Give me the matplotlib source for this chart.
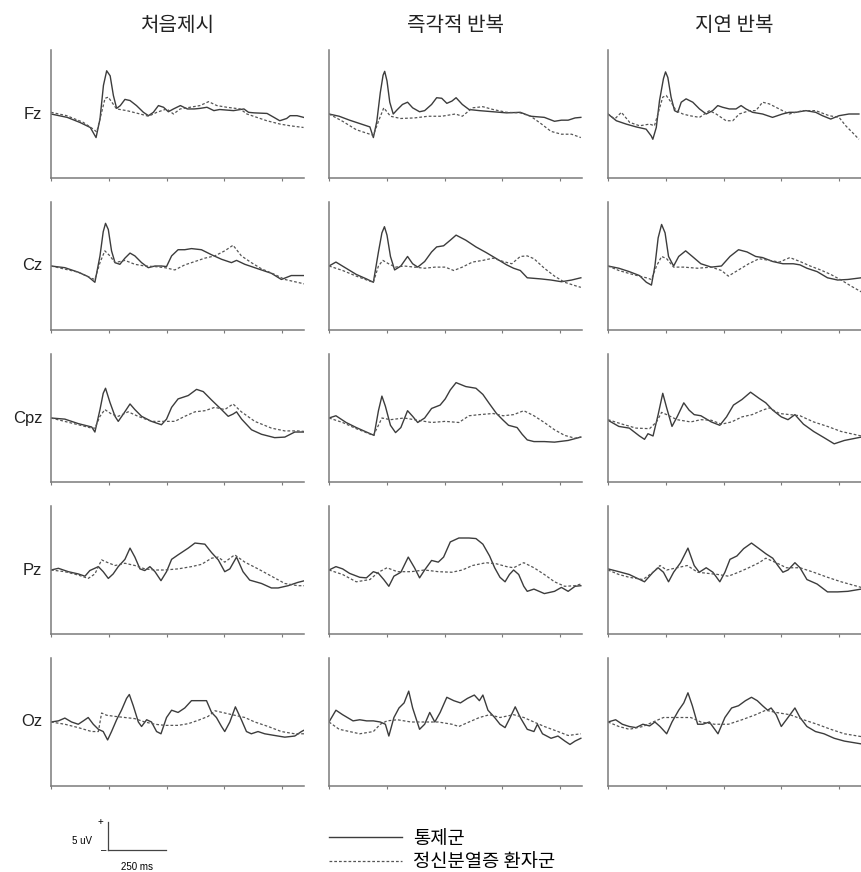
import numpy as np
import matplotlib.pyplot as plt
from matplotlib.lines import Line2D

plt.rcParams['font.family'] = ['Liberation Sans', 'DejaVu Sans']
KR = ['Noto Sans CJK KR', 'DejaVu Sans']

# ERP grand averages: (time ms, amplitude uV)
conditions = ['처음제시', '즉각적 반복', '지연 반복']
electrodes = ['Fz', 'Cz', 'Cpz', 'Pz', 'Oz']
groups = ['통제군', '정신분열증 환자군']

fz_first_ctrl = [(-200,0),(-130,-0.6),(-75,-1.5),(-30,-2.4),(-5,-4.2),(12,-0.9),(27,5.1),(41,7.7),(56,6.8),(70,3.3),(84,1.0),(100,1.5),(120,2.6),(142,2.4),(170,1.5),(200,0.3),(222,-0.3),(243,0.3),(265,1.5),(287,1.2),(308,0.4),(330,0.9),(360,1.5),(390,0.9),(420,0.9),(445,1.0),(475,1.2),(505,0.6),(530,0.8),(590,0.6),(635,0.9),(655,0.3),(680,0.2),(735,0.1),(765,-0.6),(790,-1.2),(820,-0.8),(835,-0.3),(865,-0.3),(893,-0.6)]
fz_first_scz = [(-200,0.3),(-132,-0.3),(-60,-1.5),(-17,-2.7),(-2,-3.2),(12,-0.9),(34,2.8),(48,3.0),(84,0.9),(128,0.6),(186,0),(222,-0.4),(258,0.3),(301,0.9),(330,0),(359,0.9),(402,1.2),(445,1.5),(482,2.2),(518,1.5),(561,1.2),(619,0.9),(648,0),(691,-0.6),(734,-1.2),(792,-1.8),(835,-2.1),(893,-2.4)]

cz_first_ctrl = [(-200,0),(-140,-0.3),(-82,-1.1),(-39,-1.9),(-10,-2.9),(12,1.8),(26,6.1),(36,7.6),(48,6.5),(62,2.7),(77,0.6),(98,0.3),(120,1.4),(142,2.3),(163,1.8),(192,0.6),(221,-0.3),(250,0),(278,0),(300,-0.1),(322,1.8),(350,2.9),(379,2.9),(408,3.1),(451,2.9),(495,2.0),(538,1.2),(581,0.6),(603,1.0),(639,0.3),(696,-0.5),(754,-1.3),(797,-2.4),(840,-1.7),(898,-1.7)]
cz_first_scz = [(-200,0),(-82,-1.1),(-24,-2.2),(-10,-2.4),(12,0.6),(33,2.7),(55,1.8),(77,0.6),(120,1.0),(163,0.3),(206,0),(250,-0.1),(293,-0.3),(336,-0.7),(379,0.2),(423,0.8),(466,1.4),(509,1.8),(552,2.7),(588,3.7),(624,1.8),(667,0.6),(711,-0.5),(768,-1.5),(812,-2.4),(855,-2.8),(898,-3.2)]

cpz_first_ctrl = [(-200,0),(-140,-0.2),(-82,-1.0),(-24,-1.6),(-10,-2.5),(12,1.5),(26,4.4),(36,5.3),(55,2.8),(77,0.3),(91,-0.6),(113,0.7),(142,2.5),(163,1.5),(192,0.3),(235,-0.6),(278,-1.2),(300,-0.2),(322,1.9),(350,3.4),(394,4.0),(430,5.1),(459,4.7),(495,3.2),(538,1.5),(567,0.3),(588,0.7),(603,1.1),(625,-0.2),(668,-2.1),(711,-2.9),(768,-3.5),(812,-3.4),(855,-2.5),(898,-2.5)]
cpz_first_scz = [(-200,0),(-82,-1.2),(-24,-1.8),(-10,-1.8),(12,0.3),(33,1.5),(62,0.7),(91,0.3),(134,1.1),(177,0.3),(235,-0.6),(293,-0.6),(336,-0.6),(379,0.3),(423,1.1),(466,1.3),(509,1.9),(552,1.5),(588,2.5),(624,1.1),(682,-0.6),(754,-1.8),(812,-2.3),(869,-2.3),(898,-2.4)]

pz_first_ctrl = [(-200,0),(-168,0.3),(-125,-0.3),(-82,-0.7),(-53,-1.1),(-32,-0.1),(5,0.6),(26,-0.3),(48,-1.5),(69,-0.7),(91,0.6),(120,1.9),(142,3.9),(163,2.3),(185,0.2),(206,-0.1),(228,0.6),(250,-0.3),(276,-1.9),(300,-0.3),(322,1.9),(350,2.7),(394,3.9),(423,4.8),(466,4.6),(495,3.1),(524,1.8),(552,-0.3),(574,0.2),(603,2.3),(631,-0.3),(660,-1.8),(711,-2.4),(754,-3.2),(783,-3.2),(826,-2.8),(869,-2.2),(898,-1.9)]
pz_first_scz = [(-200,0),(-140,-0.3),(-82,-0.9),(-39,-1.5),(-10,-0.7),(19,1.8),(41,1.4),(77,0.8),(120,1.2),(163,0.8),(206,0.2),(250,0),(293,0),(350,0.2),(408,0.6),(451,1.0),(495,2.1),(524,2.3),(552,1.4),(595,2.7),(639,1.4),(696,0.2),(754,-1.1),(812,-2.4),(869,-2.8),(898,-2.8)]

oz_first_ctrl = [(-200,0),(-168,0.2),(-140,0.7),(-111,0),(-82,-0.4),(-60,0.2),(-39,0.8),(-17,-0.4),(5,-1.3),(26,-1.7),(45,-3.2),(62,-1.7),(84,0.4),(105,2.1),(127,4.2),(139,4.9),(156,2.9),(178,0),(192,-0.8),(214,0.4),(235,0),(257,-1.7),(276,-2.1),(300,0.8),(322,2.1),(350,1.7),(379,2.5),(408,3.8),(444,3.8),(473,3.8),(495,1.7),(516,0.8),(538,-0.8),(552,-1.7),(574,0),(598,2.7),(624,0.4),(646,-1.7),(667,-2.1),(696,-1.7),(725,-2.1),(768,-2.4),(812,-2.7),(855,-2.5),(884,-1.7),(898,-1.4)]
oz_first_scz = [(-200,0),(-140,-0.4),(-82,-1.0),(-24,-1.7),(5,-1.7),(19,1.6),(41,1.2),(77,1.0),(120,0.8),(163,0.6),(206,0),(250,-0.4),(293,-0.6),(350,-0.6),(394,-0.3),(437,0.3),(480,1.0),(510,2.0),(552,1.6),(595,1.2),(639,0.8),(682,0),(740,-0.8),(797,-1.7),(855,-2.1),(898,-2.1)]

fz_imm_ctrl = [(-200,0),(-156,-0.4),(-111,-1.1),(-67,-1.7),(-23,-2.3),(-8,-4.2),(7,-1.3),(22,3.8),(34,6.9),(41,7.6),(51,5.9),(63,2.1),(78,0),(96,0.8),(118,1.7),(140,2.1),(162,1.1),(192,0.4),(214,0.6),(244,1.7),(266,2.9),(288,2.8),(310,1.9),(332,2.3),(350,2.9),(377,1.7),(406,0.8),(451,0.6),(510,0.4),(569,0.2),(628,0.3),(673,-0.4),(732,-0.6),(776,-1.3),(806,-1.1),(835,-1.1),(865,-0.7),(890,-0.6)]
fz_imm_scz = [(-200,0),(-141,-1.3),(-82,-2.8),(-38,-3.4),(-8,-3.8),(14,-1.3),(37,1.1),(66,-0.4),(110,-0.8),(170,-0.7),(229,-0.4),(288,-0.4),(347,0),(377,-0.4),(421,1.1),(466,1.3),(510,0.8),(569,0.3),(628,0.2),(673,-0.4),(717,-1.7),(761,-3.1),(806,-3.6),(850,-3.6),(890,-4.2)]

cz_imm_ctrl = [(-200,0),(-170,0.7),(-126,-0.4),(-82,-1.5),(-38,-2.3),(-8,-2.9),(14,2.5),(29,5.9),(40,7.0),(51,5.5),(66,1.7),(84,-0.7),(111,0),(140,1.7),(162,0.4),(184,-0.2),(214,0.8),(244,2.5),(266,3.4),(296,3.6),(325,4.6),(350,5.5),(392,4.6),(436,3.4),(480,2.4),(525,1.3),(569,0.2),(599,-0.4),(628,-0.8),(658,-2.1),(717,-2.3),(761,-2.5),(806,-2.8),(850,-2.5),(890,-2.1)]
cz_imm_scz = [(-200,0),(-141,-0.8),(-82,-1.8),(-23,-2.7),(-8,-2.9),(14,0),(33,1.0),(58,0.4),(88,-0.2),(125,0),(170,-0.2),(214,-0.4),(259,-0.2),(303,-0.2),(340,-0.8),(377,-0.2),(421,0.7),(466,1.0),(510,1.4),(554,0.8),(591,0.4),(628,1.7),(658,1.8),(687,1.3),(732,-0.4),(776,-1.8),(820,-2.9),(865,-3.5),(890,-3.8)]

cpz_imm_ctrl = [(-200,0),(-170,0.4),(-126,-0.8),(-82,-1.7),(-38,-2.5),(-5,-3.1),(14,1.3),(29,3.9),(44,2.1),(66,-1.3),(88,-2.6),(111,-1.7),(140,1.3),(162,0.3),(184,-0.8),(214,0),(244,1.7),(281,2.3),(303,3.4),(325,5.0),(350,6.3),(392,5.6),(436,5.3),(466,4.2),(495,2.5),(525,0.8),(554,-0.4),(577,-1.3),(614,-1.7),(636,-2.9),(658,-3.9),(687,-4.2),(732,-4.2),(776,-4.3),(835,-4.0),(890,-3.4)]
cpz_imm_scz = [(-200,0),(-141,-0.8),(-82,-1.9),(-8,-3.1),(14,-1.3),(29,0),(66,-0.3),(125,0),(184,-0.4),(244,-0.8),(303,-0.6),(362,-0.8),(406,0.4),(451,0.6),(510,0.8),(554,0.4),(599,0.6),(643,1.3),(687,0.4),(732,-0.8),(776,-2.1),(820,-3.1),(865,-3.6),(890,-3.4)]

pz_imm_ctrl = [(-200,0),(-170,0.6),(-141,0.2),(-111,-0.6),(-67,-1.3),(-38,-1.4),(-8,-0.3),(14,-0.6),(37,-1.7),(59,-2.9),(81,-1.1),(111,-0.4),(143,2.3),(170,0.4),(192,-1.4),(214,0),(244,1.7),(273,1.4),(296,2.3),(325,5.0),(362,5.7),(406,5.7),(436,5.6),(466,4.6),(495,2.5),(517,0.4),(540,-1.3),(562,-2.1),(581,-0.8),(599,0),(621,-0.8),(643,-2.9),(658,-3.8),(687,-3.4),(732,-4.2),(776,-3.8),(806,-3.1),(835,-3.8),(865,-2.9),(890,-2.8)]
pz_imm_scz = [(-200,0),(-141,-0.8),(-82,-2.1),(-23,-1.7),(14,-0.4),(51,0.4),(96,-0.3),(155,-0.3),(214,0),(273,-0.3),(332,-0.4),(377,0),(421,0.8),(480,1.3),(525,1.1),(569,0.6),(599,0.4),(643,1.3),(687,0.4),(732,-0.8),(776,-2.1),(820,-2.9),(865,-2.8),(890,-2.5)]

oz_imm_ctrl = [(-200,0),(-170,2.1),(-141,1.3),(-96,0.2),(-67,0.4),(-37,0.2),(-8,0.2),(22,0),(44,-0.4),(59,-2.5),(81,0.8),(103,2.5),(125,3.4),(145,5.5),(162,2.5),(192,-1.3),(214,-0.4),(236,1.7),(258,0),(281,1.7),(310,4.4),(340,3.8),(369,3.4),(399,4.2),(429,4.8),(451,3.8),(466,4.8),(488,2.1),(517,0.8),(540,-0.4),(562,-1.0),(584,0.8),(606,2.7),(628,0.8),(658,-1.3),(687,-1.7),(702,-0.4),(724,-2.1),(761,-2.9),(791,-2.5),(821,-3.4),(843,-4.0),(865,-3.4),(890,-2.9)]
oz_imm_scz = [(-200,0),(-156,-1.3),(-111,-1.7),(-67,-2.1),(-8,-1.7),(22,-0.4),(51,0.2),(96,0.4),(155,0),(214,0),(273,0),(332,-0.4),(362,-0.8),(406,0),(451,0.8),(495,1.3),(540,0.8),(599,1.3),(643,0.8),(687,0),(732,-0.8),(791,-1.7),(835,-2.4),(890,-2.1)]

fz_del_ctrl = [(-200,0),(-164,-1.2),(-121,-1.8),(-78,-2.3),(-35,-2.7),(-13,-3.9),(-6,-4.5),(9,-2.4),(23,2.4),(40,6.3),(49,7.5),(59,6.5),(73,3.0),(88,0.6),(102,0.3),(117,2.1),(138,2.7),(167,2.1),(196,0.9),(225,0),(253,0.6),(275,1.5),(296,1.2),(325,0.9),(354,0.9),(376,1.5),(397,0.9),(426,0.3),(469,0),(512,-0.6),(555,0),(584,0.3),(613,0.3),(656,0.6),(699,0.3),(728,-0.3),(764,-0.9),(800,-0.3),(843,0),(886,0)]
fz_del_scz = [(-200,0),(-171,-0.9),(-142,0.3),(-106,-1.5),(-63,-2.1),(-20,-1.8),(1,-2.1),(16,0),(37,3.0),(52,3.3),(73,2.1),(95,0.6),(124,0),(153,-0.3),(196,-0.6),(239,0.6),(268,0),(311,-1.2),(340,-1.2),(368,0),(412,0.6),(440,0.6),(469,2.1),(498,1.8),(541,0.9),(584,0),(642,0.6),(699,0.6),(757,-0.3),(800,-0.6),(829,-2.1),(858,-3.3),(886,-4.5)]

cz_del_ctrl = [(-200,0),(-153,-0.4),(-108,-1.0),(-64,-1.7),(-34,-2.9),(-12,-3.4),(3,0),(17,5.0),(32,7.4),(47,5.9),(62,1.7),(84,0),(106,1.7),(136,2.7),(165,1.7),(202,0.4),(247,-0.2),(291,0),(328,1.7),(365,2.9),(402,2.5),(439,1.7),(469,1.5),(513,0.8),(557,0.4),(602,0.4),(631,0.2),(661,-0.4),(705,-1.0),(750,-2.1),(794,-2.5),(838,-2.4),(896,-2.1)]
cz_del_scz = [(-200,0),(-153,-0.8),(-94,-1.5),(-34,-2.1),(-12,-2.4),(10,0),(32,1.7),(54,1.3),(84,-0.2),(128,-0.2),(188,-0.4),(247,-0.2),(291,-0.8),(321,-1.8),(365,-0.7),(409,0.4),(454,1.3),(498,1.0),(542,0.7),(587,1.5),(631,0.8),(675,0),(720,-0.7),(764,-1.5),(809,-2.5),(853,-3.6),(896,-4.6)]

cpz_del_ctrl = [(-200,-0.4),(-153,-1.5),(-108,-1.8),(-64,-3.2),(-42,-3.8),(-27,-2.8),(-5,-3.2),(17,0.6),(37,4.4),(54,1.8),(77,-1.5),(99,0.2),(128,2.7),(151,1.4),(173,0.6),(202,0.4),(247,-0.7),(284,-1.3),(313,0.2),(343,2.3),(380,3.3),(417,4.6),(454,3.5),(483,2.7),(513,1.4),(550,0.2),(579,-0.3),(609,0.6),(646,-1.1),(690,-2.4),(735,-3.5),(779,-4.6),(823,-4.0),(896,-3.4)]
cpz_del_scz = [(-200,-0.3),(-138,-1.1),(-79,-1.8),(-20,-1.9),(10,-0.7),(32,1.0),(54,0.6),(99,-0.3),(158,-0.7),(202,-0.3),(247,-0.4),(291,-1.1),(335,-0.7),(380,0.2),(424,0.6),(469,1.4),(498,1.8),(542,0.8),(587,0.6),(631,0.4),(690,-0.7),(750,-1.5),(809,-2.4),(896,-3.2)]

pz_del_ctrl = [(-200,0.2),(-153,-0.3),(-108,-0.8),(-42,-2.1),(-5,-0.4),(17,0.4),(40,-0.4),(62,-2.1),(84,-0.4),(114,1.3),(146,3.9),(173,0.8),(195,-0.4),(225,0.4),(254,-0.4),(284,-2.1),(306,-0.4),(328,1.9),(358,2.5),(387,3.8),(421,4.8),(454,3.8),(483,2.9),(513,2.1),(535,0.8),(557,-0.4),(579,0),(609,1.3),(631,0.4),(661,-1.7),(705,-2.5),(750,-3.9),(794,-3.9),(838,-3.8),(896,-3.4)]
pz_del_scz = [(-200,0),(-153,-0.8),(-108,-1.3),(-49,-1.7),(-5,-0.4),(25,0.8),(54,0),(99,0.4),(143,0.8),(188,-0.4),(232,-0.6),(276,-0.8),(321,-1.1),(365,-0.4),(409,0.4),(454,1.3),(483,2.1),(528,1.3),(572,0.4),(631,0.4),(690,-0.4),(750,-1.3),(809,-2.1),(896,-3.1)]

oz_del_ctrl = [(-200,0),(-167,0.4),(-138,-0.4),(-108,-0.8),(-79,-1.0),(-49,-0.4),(-20,-0.7),(3,0),(25,-0.8),(54,-2.1),(77,0),(106,2.1),(128,3.4),(146,5.2),(165,2.9),(188,-0.4),(210,-0.4),(239,0),(276,-2.1),(306,0.8),(335,2.5),(365,2.9),(395,3.8),(421,4.4),(446,3.8),(469,2.9),(491,2.1),(506,2.5),(528,1.3),(550,-0.8),(579,0.8),(609,2.5),(631,0.8),(661,-0.8),(698,-1.7),(735,-2.1),(779,-2.9),(823,-3.4),(896,-3.9)]
oz_del_scz = [(-200,0),(-153,-0.8),(-108,-1.3),(-49,-0.8),(-5,0),(40,0.8),(99,0.8),(158,0.8),(202,0),(261,-0.4),(321,-0.4),(380,0.4),(439,1.3),(483,2.1),(528,1.7),(587,1.3),(646,0.4),(705,-0.4),(764,-1.3),(823,-2.1),(896,-2.6)]

panels = {
    ('Fz', 0): (fz_first_ctrl, fz_first_scz), ('Fz', 1): (fz_imm_ctrl, fz_imm_scz), ('Fz', 2): (fz_del_ctrl, fz_del_scz),
    ('Cz', 0): (cz_first_ctrl, cz_first_scz), ('Cz', 1): (cz_imm_ctrl, cz_imm_scz), ('Cz', 2): (cz_del_ctrl, cz_del_scz),
    ('Cpz', 0): (cpz_first_ctrl, cpz_first_scz), ('Cpz', 1): (cpz_imm_ctrl, cpz_imm_scz), ('Cpz', 2): (cpz_del_ctrl, cpz_del_scz),
    ('Pz', 0): (pz_first_ctrl, pz_first_scz), ('Pz', 1): (pz_imm_ctrl, pz_imm_scz), ('Pz', 2): (pz_del_ctrl, pz_del_scz),
    ('Oz', 0): (oz_first_ctrl, oz_first_scz), ('Oz', 1): (oz_imm_ctrl, oz_imm_scz), ('Oz', 2): (oz_del_ctrl, oz_del_scz),
}

# layout in pixels
W, H = 861, 872
col_left = [51, 329, 608]
row_bottom = [178, 330, 482, 634, 786]
ax_w, ax_h = 253, 128
XLIM = (-200, 895)
YLIM = (-11.4, 11.4)
line_c = '#3c3c3c'
dash_c = '#555555'
spine_c = '#7a7a7a'

fig = plt.figure(figsize=(W / 100, H / 100), dpi=100)

def px_axes(left, bottom, w, h):
    return fig.add_axes([left / W, 1 - bottom / H, w / W, h / H])

for r, el in enumerate(electrodes):
    for c in range(3):
        ax = px_axes(col_left[c], row_bottom[r], ax_w, ax_h)
        ctrl, scz = panels[(el, c)]
        t, v = np.array(ctrl).T
        ax.plot(t, v, color=line_c, lw=1.0, solid_joinstyle='round')
        t, v = np.array(scz).T
        ax.plot(t, v, color=dash_c, lw=0.9, dashes=(2.2, 1.6))
        ax.set_xlim(*XLIM)
        ax.set_ylim(*YLIM)
        for s in ['top', 'right']:
            ax.spines[s].set_visible(False)
        for s in ['left', 'bottom']:
            ax.spines[s].set_color(spine_c)
            ax.spines[s].set_linewidth(1.1)
        ax.set_xticks(np.arange(-200, 900, 250))
        ax.set_yticks([])
        ax.tick_params(axis='x', direction='out', length=2.5, width=0.8,
                       color=spine_c, labelbottom=False)
        if r == 0:
            ax.set_title(conditions[c], family=KR, fontsize=14.5, color='#222222', pad=14)
        if c == 0:
            ax.text(-0.035, 0.5, el, transform=ax.transAxes, ha='right', va='center',
                    fontsize=12, color='#222222')

# scale bar drawn in the same data units as the panels
ms_per_px = (XLIM[1] - XLIM[0]) / ax_w
uv_per_px = (YLIM[1] - YLIM[0]) / ax_h
sb = px_axes(108, 850, 250 / ms_per_px, 5 / uv_per_px)
sb.set_xlim(0, 250)
sb.set_ylim(0, 5)
sb.axis('off')
sb.plot([0, 0], [0, 5], color='#444444', lw=0.9, clip_on=False)
sb.plot([0, 250], [0, 0], color='#444444', lw=0.9, clip_on=False)
sb.text(-0.13, 1.0, '+', transform=sb.transAxes, ha='center', va='center', fontsize=7)
sb.text(-0.07, -0.02, '\u2013', transform=sb.transAxes, ha='center', va='center', fontsize=7)
sb.text(-0.45, 0.32, '5 uV', transform=sb.transAxes, ha='center', va='center', fontsize=7)
sb.text(0.5, -0.6, '250 ms', transform=sb.transAxes, ha='center', va='center', fontsize=7)

handles = [Line2D([], [], color=line_c, lw=1.0),
           Line2D([], [], color=dash_c, lw=0.9, dashes=(2.2, 1.6))]
fig.legend(handles, groups, loc='upper left', bbox_to_anchor=(329 / W, 1 - 828 / H),
           frameon=False, prop={'family': KR, 'size': 13.5}, handlelength=3.9,
           handletextpad=0.6, labelspacing=0.12, borderpad=0, borderaxespad=0)

fig.savefig('out.png', dpi=100)
